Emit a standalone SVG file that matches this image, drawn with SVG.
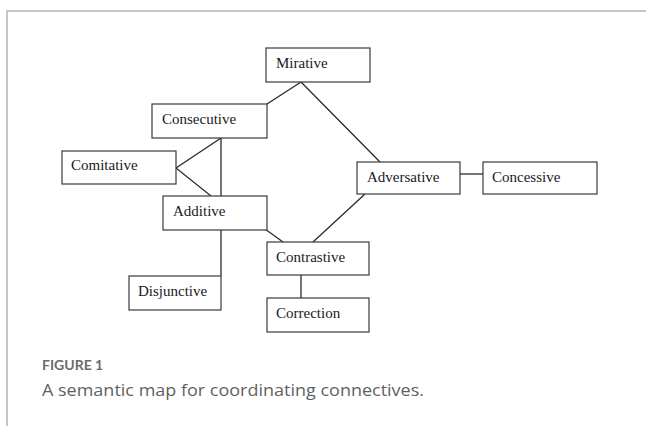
<svg xmlns="http://www.w3.org/2000/svg" width="646" height="426" viewBox="0 0 646 426">
<style>
.frame{stroke:#b4b4b4;stroke-width:1.5;fill:none}
.box{fill:#fff;stroke:#3a3a3a;stroke-width:1.2}
.lbl{font-family:"Liberation Serif","Times New Roman",serif;font-size:15px;fill:#1a1a1a}
.edge{stroke:#2a2a2a;stroke-width:1.3;fill:none}
.fig{font-family:"Lato","Open Sans",sans-serif;font-size:14px;font-weight:bold;fill:#6b6b6b}
.cap{font-family:"Open Sans","Lato",sans-serif;font-size:17px;fill:#5f5f5f}
</style>
<rect width="646" height="426" fill="#fff"/>
<path class="frame" d="M7,426 V11 H646"/>
<g id="connectors">
<line class="edge" x1="301" y1="82" x2="267" y2="104"/>
<line class="edge" x1="301" y1="82" x2="380" y2="162"/>
<line class="edge" x1="460" y1="174" x2="483" y2="174"/>
<line class="edge" x1="365" y1="194" x2="313" y2="242"/>
<line class="edge" x1="265" y1="229" x2="283" y2="242"/>
<line class="edge" x1="221" y1="138" x2="221" y2="196"/>
<line class="edge" x1="176" y1="168" x2="221" y2="138"/>
<line class="edge" x1="176" y1="168" x2="211" y2="196"/>
<line class="edge" x1="221" y1="230" x2="221" y2="276"/>
<line class="edge" x1="301" y1="275" x2="301" y2="298"/>
</g>
<g id="mirative"><rect class="box" x="266" y="48" width="104" height="34"/><text class="lbl" x="276" y="68">Mirative</text></g>
<g id="consecutive"><rect class="box" x="152" y="104" width="115" height="34"/><text class="lbl" x="162" y="124">Consecutive</text></g>
<g id="comitative"><rect class="box" x="62" y="151" width="114" height="33"/><text class="lbl" x="71" y="170">Comitative</text></g>
<g id="additive"><rect class="box" x="163" y="196" width="104" height="34"/><text class="lbl" x="173" y="216">Additive</text></g>
<g id="adversative"><rect class="box" x="357" y="162" width="103" height="32"/><text class="lbl" x="367" y="182">Adversative</text></g>
<g id="concessive"><rect class="box" x="483" y="162" width="114" height="32"/><text class="lbl" x="492" y="182">Concessive</text></g>
<g id="contrastive"><rect class="box" x="267" y="242" width="102" height="33"/><text class="lbl" x="276" y="262">Contrastive</text></g>
<g id="disjunctive"><rect class="box" x="129" y="276" width="92" height="34"/><text class="lbl" x="138" y="296">Disjunctive</text></g>
<g id="correction"><rect class="box" x="267" y="298" width="102" height="34"/><text class="lbl" x="276" y="318">Correction</text></g>
<text class="fig" x="42" y="370">FIGURE 1</text>
<text class="cap" x="42" y="396" textLength="382" lengthAdjust="spacingAndGlyphs">A semantic map for coordinating connectives.</text>
</svg>
